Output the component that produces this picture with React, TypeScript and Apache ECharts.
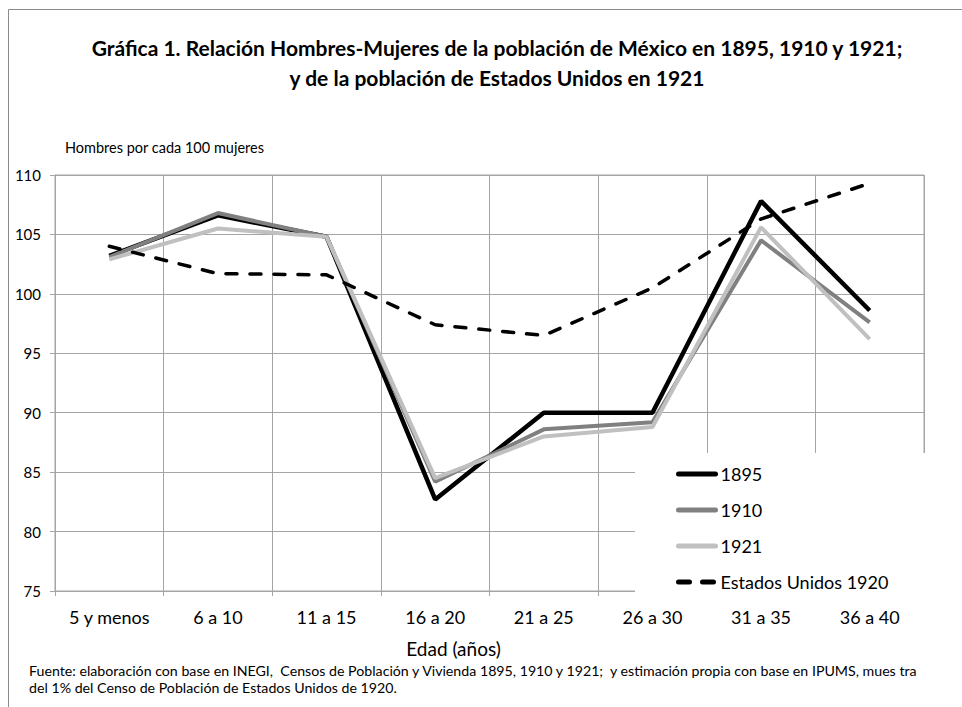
import React, { useEffect, useRef } from 'react';
import * as echarts from 'echarts';

const categories = ['5 y menos', '6 a 10', '11 a 15', '16 a 20', '21 a 25', '26 a 30', '31 a 35', '36 a 40'];
const s1895 = [103.2, 106.6, 104.8, 82.7, 90.0, 90.0, 107.8, 98.6];
const s1910 = [103.1, 106.8, 104.8, 84.2, 88.6, 89.2, 104.5, 97.6];
const s1921 = [102.9, 105.5, 104.8, 84.5, 88.0, 88.8, 105.6, 96.2];
const sUS = [104.0, 101.7, 101.6, 97.4, 96.5, 100.5, 106.3, 109.3];
const seriesNames = ['1895', '1910', '1921', 'Estados Unidos 1920'];

const titleLine1 = 'Gráfica 1. Relación Hombres-Mujeres de la población de México en 1895, 1910 y 1921;';
const titleLine2 = 'y de la población de Estados Unidos en 1921';
const yAxisTitle = 'Hombres por cada 100 mujeres';
const xAxisTitle = 'Edad (años)';
const note1 = 'Fuente: elaboración con base en INEGI,  Censos de Población y Vivienda 1895, 1910 y 1921;  y estimación propia con base en IPUMS, mues tra';
const note2 = 'del 1% del Censo de Población de Estados Unidos de 1920.';

const FONT = 'Lato, "Liberation Sans", sans-serif';
const GRID = '#a5a5a5';

export default function App() {
  const ref = useRef<HTMLDivElement>(null);
  useEffect(() => {
    document.body.style.margin = '0';
    const chart = echarts.init(ref.current!, null, { renderer: 'svg' });
    chart.setOption({
      animation: false,
      backgroundColor: '#fff',
      grid: { left: 55, right: 38, top: 175, bottom: 116, show: true, borderColor: GRID, borderWidth: 1 },
      xAxis: {
        type: 'category',
        data: categories,
        boundaryGap: true,
        axisLine: { show: true, lineStyle: { color: GRID, width: 1 } },
        axisTick: { show: true, length: 5, lineStyle: { color: GRID } },
        axisLabel: { color: '#000', fontFamily: FONT, fontSize: 18, margin: 17, interval: 0 },
        splitLine: { show: true, lineStyle: { color: GRID, width: 1 } },
      },
      yAxis: {
        type: 'value',
        min: 75,
        max: 110,
        interval: 5,
        axisLine: { show: true, lineStyle: { color: GRID, width: 1 } },
        axisTick: { show: true, length: 5, lineStyle: { color: GRID } },
        axisLabel: { color: '#000', fontFamily: FONT, fontSize: 15, margin: 14 },
        splitLine: { show: true, lineStyle: { color: GRID, width: 1 } },
      },
      legend: {
        orient: 'vertical',
        left: 635,
        top: 453,
        padding: [12, 38, 12, 41],
        backgroundColor: '#fff',
        itemWidth: 37,
        itemHeight: 14,
        itemGap: 18,
        itemStyle: { opacity: 0 },
        lineStyle: { width: 5, cap: 'round' },
        textStyle: { color: '#000', fontFamily: FONT, fontSize: 18 },
        data: seriesNames,
      },
      series: [
        { name: '1895', type: 'line', data: s1895, symbol: 'none', lineStyle: { color: '#000', width: 4.5 }, itemStyle: { color: '#000' }, z: 3 },
        { name: '1910', type: 'line', data: s1910, symbol: 'none', lineStyle: { color: '#808080', width: 4 }, itemStyle: { color: '#808080' }, z: 4 },
        { name: '1921', type: 'line', data: s1921, symbol: 'none', lineStyle: { color: '#c0c0c0', width: 4 }, itemStyle: { color: '#c0c0c0' }, z: 5 },
        { name: 'Estados Unidos 1920', type: 'line', data: sUS, symbol: 'none', lineStyle: { color: '#000', width: 3.5, type: [11, 13], cap: 'round' }, itemStyle: { color: '#000' }, z: 6 },
      ],
      graphic: [
        { type: 'rect', silent: true, shape: { x: 8.5, y: 9.5, width: 1200, height: 1200 }, style: { fill: 'none', stroke: '#8a8a8a', lineWidth: 1 } },
        { type: 'text', silent: true, x: 497, y: 47, style: { text: titleLine1, align: 'center', verticalAlign: 'middle', fontFamily: FONT, fontWeight: 'bold', fontSize: 21, fill: '#000' } },
        { type: 'text', silent: true, x: 497, y: 77, style: { text: titleLine2, align: 'center', verticalAlign: 'middle', fontFamily: FONT, fontWeight: 'bold', fontSize: 21, fill: '#000' } },
        { type: 'text', silent: true, x: 65, y: 147, style: { text: yAxisTitle, align: 'left', verticalAlign: 'middle', fontFamily: FONT, fontSize: 14.5, fill: '#000' } },
        { type: 'text', silent: true, x: 453.5, y: 648, style: { text: xAxisTitle, align: 'center', verticalAlign: 'middle', fontFamily: FONT, fontSize: 19, fill: '#000' } },
        { type: 'text', silent: true, x: 29, y: 670, style: { text: note1, align: 'left', verticalAlign: 'middle', fontFamily: FONT, fontSize: 14.2, fill: '#000' } },
        { type: 'text', silent: true, x: 29, y: 687, style: { text: note2, align: 'left', verticalAlign: 'middle', fontFamily: FONT, fontSize: 14.2, fill: '#000' } },
      ],
    });
    return () => chart.dispose();
  }, []);
  return <div ref={ref} style={{ width: 962, height: 707 }} />;
}
